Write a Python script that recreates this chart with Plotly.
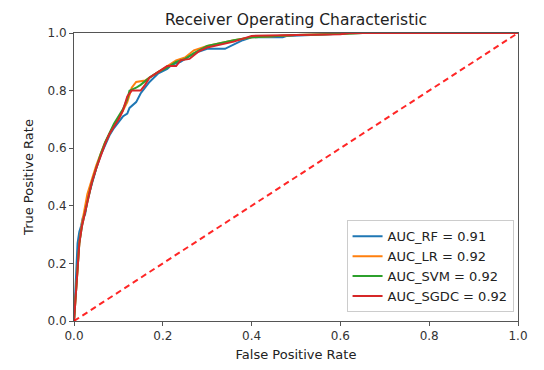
import plotly.graph_objects as go

fpr_rf = [0, 0.002, 0.005, 0.008, 0.012, 0.016, 0.02, 0.025, 0.03, 0.04, 0.05, 0.06, 0.07, 0.08, 0.09, 0.10, 0.11, 0.12, 0.125, 0.14, 0.15, 0.17, 0.19, 0.21, 0.22, 0.24, 0.26, 0.28, 0.30, 0.34, 0.36, 0.38, 0.40, 0.45, 0.47, 0.48, 0.55, 0.60, 0.65, 1.0]
tpr_rf = [0, 0.08, 0.20, 0.27, 0.31, 0.33, 0.36, 0.37, 0.42, 0.48, 0.53, 0.575, 0.61, 0.645, 0.67, 0.69, 0.71, 0.72, 0.74, 0.76, 0.79, 0.83, 0.86, 0.875, 0.89, 0.90, 0.92, 0.935, 0.945, 0.945, 0.96, 0.975, 0.985, 0.985, 0.985, 0.99, 0.993, 0.997, 1.0, 1.0]

fpr_lr = [0, 0.002, 0.005, 0.008, 0.012, 0.018, 0.025, 0.03, 0.04, 0.05, 0.06, 0.07, 0.08, 0.09, 0.10, 0.11, 0.12, 0.13, 0.14, 0.16, 0.17, 0.19, 0.21, 0.23, 0.25, 0.27, 0.30, 0.33, 0.36, 0.40, 0.45, 0.50, 0.55, 0.60, 0.65, 1.0]
tpr_lr = [0, 0.04, 0.11, 0.19, 0.27, 0.34, 0.40, 0.44, 0.49, 0.54, 0.58, 0.62, 0.65, 0.68, 0.70, 0.73, 0.76, 0.81, 0.83, 0.835, 0.845, 0.865, 0.885, 0.905, 0.915, 0.94, 0.955, 0.965, 0.975, 0.985, 0.99, 0.993, 0.995, 0.997, 1.0, 1.0]

fpr_svm = [0, 0.002, 0.005, 0.008, 0.012, 0.018, 0.025, 0.03, 0.04, 0.05, 0.06, 0.07, 0.08, 0.09, 0.10, 0.11, 0.12, 0.125, 0.14, 0.15, 0.17, 0.19, 0.21, 0.23, 0.25, 0.27, 0.30, 0.33, 0.36, 0.40, 0.45, 0.50, 0.55, 0.60, 0.65, 1.0]
tpr_svm = [0, 0.05, 0.12, 0.19, 0.27, 0.33, 0.38, 0.42, 0.48, 0.53, 0.58, 0.62, 0.655, 0.685, 0.71, 0.735, 0.77, 0.80, 0.81, 0.82, 0.845, 0.865, 0.88, 0.90, 0.91, 0.93, 0.955, 0.965, 0.975, 0.985, 0.99, 0.993, 0.995, 0.997, 1.0, 1.0]

fpr_sgdc = [0, 0.002, 0.005, 0.008, 0.012, 0.018, 0.025, 0.03, 0.04, 0.05, 0.06, 0.07, 0.08, 0.09, 0.10, 0.11, 0.12, 0.13, 0.15, 0.16, 0.17, 0.19, 0.21, 0.23, 0.24, 0.26, 0.28, 0.30, 0.33, 0.36, 0.40, 0.45, 0.50, 0.60, 0.62, 1.0]
tpr_sgdc = [0, 0.05, 0.12, 0.20, 0.27, 0.33, 0.38, 0.42, 0.48, 0.53, 0.575, 0.615, 0.65, 0.675, 0.70, 0.73, 0.78, 0.80, 0.80, 0.82, 0.845, 0.865, 0.885, 0.885, 0.905, 0.91, 0.935, 0.95, 0.96, 0.97, 0.99, 0.992, 0.994, 0.996, 1.0, 1.0]

labels = ["AUC_RF = 0.91", "AUC_LR = 0.92", "AUC_SVM = 0.92", "AUC_SGDC = 0.92"]
colors = ["#1f77b4", "#ff7f0e", "#2ca02c", "#d62728"]
diag = [0, 1]

fig = go.Figure()
for fx, ty, lab, c in zip([fpr_rf, fpr_lr, fpr_svm, fpr_sgdc],
                          [tpr_rf, tpr_lr, tpr_svm, tpr_sgdc], labels, colors):
    fig.add_trace(go.Scatter(x=fx, y=ty, mode="lines", name=lab,
                             line=dict(color=c, width=2)))
fig.add_trace(go.Scatter(x=diag, y=diag, mode="lines", showlegend=False,
                         line=dict(color="rgba(255,0,0,0.85)", width=2, dash="6px,4px")))

axis_common = dict(range=[0, 1], showgrid=False, zeroline=False,
                   showline=True, linecolor="#555", linewidth=1, mirror=True,
                   ticks="outside", ticklen=4, tickcolor="#555",
                   tickfont=dict(size=12, color="#333"), tickformat=".1f",
                   dtick=0.2)

fig.update_layout(
    width=544, height=370,
    margin=dict(l=74, r=26, t=33, b=49, autoexpand=False),
    paper_bgcolor="white", plot_bgcolor="white",
    font=dict(family="DejaVu Sans", color="#222"),
    title=dict(text="Receiver Operating Characteristic", x=0.5, xanchor="center",
               xref="paper", y=1 - 20/370, yanchor="middle", font=dict(size=15.5, color="#222")),
    xaxis=dict(title=dict(text="False Positive Rate", font=dict(size=13), standoff=7), **axis_common),
    yaxis=dict(title=dict(text="True Positive Rate", font=dict(size=13), standoff=10), **axis_common),
    legend=dict(x=0.99, y=0.03, xanchor="right", yanchor="bottom",
                bgcolor="white", bordercolor="#ccc", borderwidth=1,
                font=dict(size=13, color="#222"), tracegroupgap=0, itemwidth=30),
)

fig.write_html("out.html", config={"displayModeBar": False},
               post_script="document.body.style.margin='0';")
